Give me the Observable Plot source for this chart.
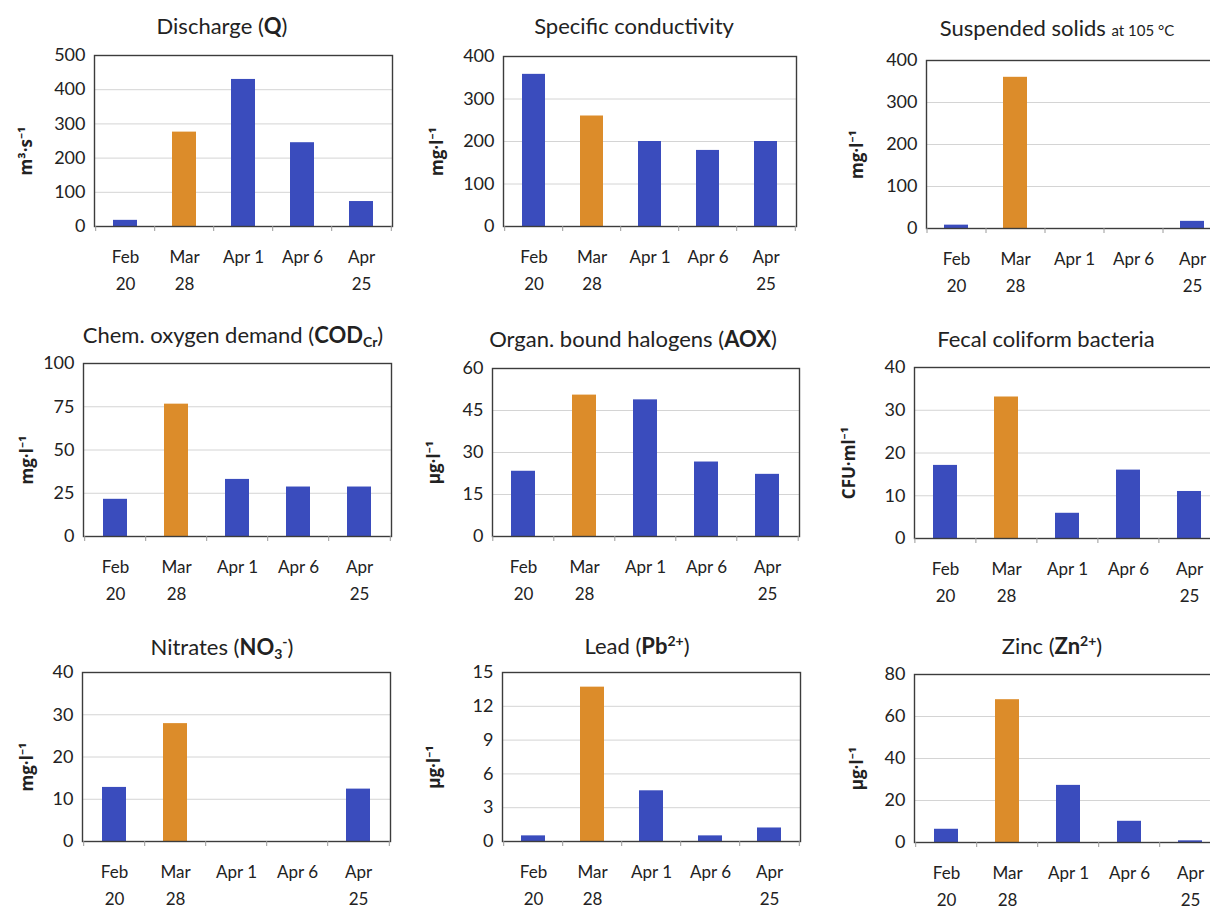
<!DOCTYPE html>
<html>
<head>
<meta charset="utf-8">
<script src="https://cdn.jsdelivr.net/npm/d3@7"></script>
<script src="https://cdn.jsdelivr.net/npm/@observablehq/plot@0.6"></script>
<style>
  html, body { margin: 0; padding: 0; background: #fff; }
  #root { position: relative; width: 1210px; height: 909px; overflow: hidden; font-family: Lato, "Open Sans", sans-serif; color: #222; }
  .panel { position: absolute; }
  .panel svg { max-width: none !important; }
  .title { position: absolute; transform: translate(-50%, -50%); white-space: nowrap; font-size: 22px; color: #222; }
  .title sub, .title sup { font-size: 14px; }
  .title sub { vertical-align: -4px; }
  .title sup { vertical-align: 8px; }
  svg text { fill: #222; }
</style>
</head>
<body>
<div id="root"></div>
<script>
// ---- data ----
const dates = ["Feb 20", "Mar 28", "Apr 1", "Apr 6", "Apr 25"];
const dateLabels = ["Feb\n20", "Mar\n28", "Apr 1", "Apr 6", "Apr\n25"];
const highlightDate = "Mar 28";

const titles = [
  "Discharge (<b>Q</b>)",
  "Specific conductivity",
  "Suspended solids <span style=\"font-size:15px\">at 105 °C</span>",
  "Chem. oxygen demand (<b>COD<sub>Cr</sub></b>)",
  "Organ. bound halogens (<b>AOX</b>)",
  "Fecal coliform bacteria",
  "Nitrates (<b>NO<sub>3</sub><sup>-</sup></b>)",
  "Lead (<b>Pb<sup>2+</sup></b>)",
  "Zinc (<b>Zn<sup>2+</sup></b>)"
];
const units = ["m³·s⁻¹", "mg·l⁻¹", "mg·l⁻¹", "mg·l⁻¹", "µg·l⁻¹", "CFU·ml⁻¹", "mg·l⁻¹", "µg·l⁻¹", "µg·l⁻¹"];

const discharge      = [18, 276, 430, 245, 73];
const conductivity   = [358, 260, 200, 179, 200];
const suspended      = [8, 360, 0, 0, 17];
const cod            = [21.5, 76.5, 33, 28.6, 28.6];
const aox            = [23.3, 50.5, 48.8, 26.6, 22.2];
const fecal          = [17.1, 33.1, 5.9, 16, 11];
const nitrates       = [12.8, 27.9, 0, 0, 12.4];
const lead           = [0.5, 13.7, 4.5, 0.5, 1.2];
const zinc           = [6.3, 68, 27.2, 10.1, 0.8];
const seriesList = [discharge, conductivity, suspended, cod, aox, fecal, nitrates, lead, zinc];

const yTicks = [
  [0, 100, 200, 300, 400, 500],
  [0, 100, 200, 300, 400],
  [0, 100, 200, 300, 400],
  [0, 25, 50, 75, 100],
  [0, 15, 30, 45, 60],
  [0, 10, 20, 30, 40],
  [0, 10, 20, 30, 40],
  [0, 3, 6, 9, 12, 15],
  [0, 20, 40, 60, 80]
];

const colors = { normal: "#3a4cbd", highlight: "#dc8c2a" };

// ---- layout (frame box in page px, title centre, unit label offset) ----
const layout = [
  { frame: [94, 55, 392, 226],  title: [222, 25],   labelOff: 68 },
  { frame: [503, 56, 796, 226], title: [634, 25],   labelOff: 66 },
  { frame: [926, 60, 1221, 228], title: [1057, 27], labelOff: 69 },
  { frame: [83, 363, 391, 536], title: [233, 335],  labelOff: 56 },
  { frame: [492, 368, 799, 536], title: [633, 338], labelOff: 58 },
  { frame: [914, 367, 1220, 538], title: [1046, 338], labelOff: 65 },
  { frame: [82, 672, 390, 841], title: [222, 647],  labelOff: 55 },
  { frame: [502, 672, 800, 841], title: [637, 645], labelOff: 68 },
  { frame: [914, 674, 1222, 842], title: [1052, 645], labelOff: 57 }
];

const root = document.getElementById("root");
const mL = 90, mT = 6, mR = 6, mB = 66;

seriesList.forEach((values, i) => {
  const L = layout[i];
  const [x0, y0, x1, y1] = L.frame;
  const fw = x1 - x0, fh = y1 - y0;
  const step = fw / dates.length;
  const ticks = yTicks[i];
  const data = dates.map((d, j) => ({ date: d, value: values[j] }));
  const labelOf = new Map(dates.map((d, j) => [d, dateLabels[j]]));
  const W = fw + mL + mR, H = fh + mT + mB;

  const chart = Plot.plot({
    width: W,
    height: H,
    marginLeft: mL, marginTop: mT, marginRight: mR, marginBottom: mB,
    style: { fontFamily: "Lato, 'Open Sans', sans-serif", background: "transparent", overflow: "visible" },
    x: { type: "band", domain: dates, paddingInner: 0.6, paddingOuter: 0.3, axis: null },
    y: { domain: [ticks[0], ticks[ticks.length - 1]], axis: null },
    marks: [
      Plot.gridY(ticks, { stroke: "#d4d4d4", strokeOpacity: 1, strokeWidth: 1 }),
      Plot.barY(data, { x: "date", y: "value", fill: d => d.date === highlightDate ? colors.highlight : colors.normal }),
      Plot.frame({ stroke: "#3c3c3c", strokeWidth: 1.4 }),
      Plot.axisY(ticks, { tickSize: 0, tickPadding: 9, fontSize: 18, label: null, tickFormat: d => String(d) }),
      Plot.axisX(dates, { tickSize: 0, tickPadding: 18, fontSize: 17, lineHeight: 1.55, label: null, lineAnchor: "top", tickFormat: d => labelOf.get(d) }),
      Plot.axisX(dates, { tickSize: 5, dx: -step / 2, stroke: "#9a9a9a", label: null, tickFormat: () => "" }),
      Plot.axisX([dates[dates.length - 1]], { tickSize: 5, dx: step / 2, stroke: "#9a9a9a", label: null, tickFormat: () => "" }),
      Plot.text([units[i]], { frameAnchor: "left", textAnchor: "middle", rotate: -90, dx: -L.labelOff, dy: 10, fontWeight: "bold", fontSize: 17, fontFamily: "'Open Sans', 'Noto Sans', sans-serif", text: d => d })
    ]
  });
  chart.style.maxWidth = "none";
  chart.style.width = W + "px";
  chart.style.height = H + "px";

  const wrap = document.createElement("div");
  wrap.className = "panel";
  wrap.style.left = (x0 - mL) + "px";
  wrap.style.top = (y0 - mT) + "px";
  wrap.style.width = W + "px";
  wrap.style.height = H + "px";
  wrap.appendChild(chart);
  root.appendChild(wrap);

  const t = document.createElement("div");
  t.className = "title";
  t.style.left = L.title[0] + "px";
  t.style.top = L.title[1] + "px";
  t.innerHTML = titles[i];
  root.appendChild(t);
});
</script>
</body>
</html>
